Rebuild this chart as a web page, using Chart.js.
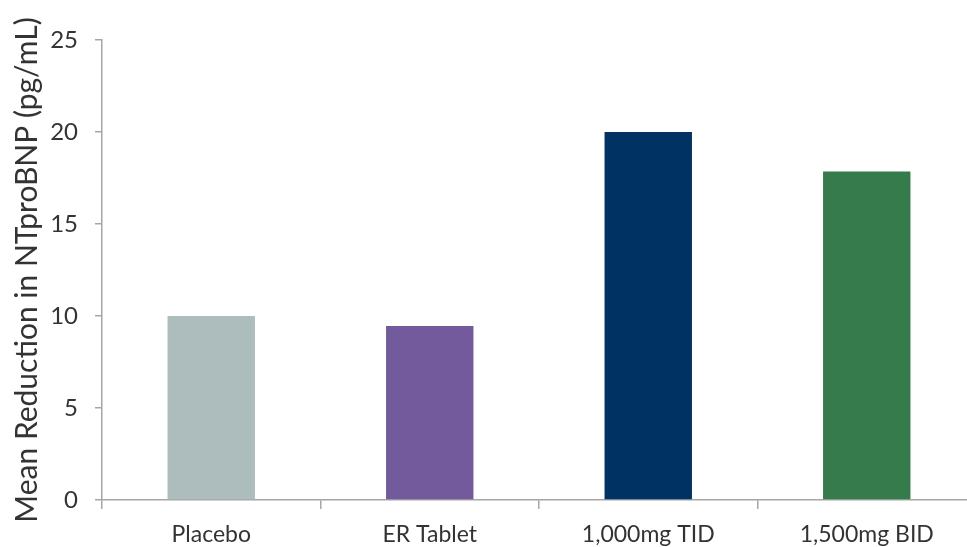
<!DOCTYPE html>
<html><head><meta charset="utf-8">
<script src="https://cdn.jsdelivr.net/npm/chart.js@4/dist/chart.umd.min.js"></script>
<style>
html,body{margin:0;padding:0;background:#fff;overflow:hidden;}
#wrap{width:967px;height:547px;overflow:hidden;position:relative;}
#box{width:980px;height:547px;position:absolute;left:0;top:0;}
</style></head>
<body><div id="wrap"><div id="box"><canvas id="c"></canvas></div></div>
<script>
const categories = ["Placebo", "ER Tablet", "1,000mg TID", "1,500mg BID"];
const values = [10, 9.45, 20, 17.85];
const barColors = ["#adbcbc", "#735a9c", "#003263", "#357b4c"];
const yTitle = "Mean Reduction in NTproBNP (pg/mL)";
const yMin = 0, yMax = 25, yStep = 5;

const axisColor = "#a6a6a6";
const textColor = "#333333";
const fontFam = "Lato, 'Open Sans', sans-serif";

new Chart(document.getElementById('c'), {
  type: 'bar',
  data: {
    labels: categories,
    datasets: [{
      data: values,
      backgroundColor: barColors,
      borderWidth: 0,
      barPercentage: 0.4,
      categoryPercentage: 1.0
    }]
  },
  options: {
    responsive: true,
    maintainAspectRatio: false,
    animation: false,
    devicePixelRatio: 1,
    layout: { padding: { top: 40, right: 4, left: 0, bottom: 0 } },
    plugins: { legend: { display: false }, tooltip: { enabled: false } },
    scales: {
      x: {
        grid: { display: true, drawOnChartArea: false, color: axisColor, tickLength: 9, lineWidth: 1.5 },
        border: { display: true, color: axisColor, width: 1.5 },
        ticks: { color: textColor, font: { family: fontFam, size: 23 }, padding: 12, maxRotation: 0 },
        afterFit: (s) => { s.height = 47; }
      },
      y: {
        min: yMin, max: yMax,
        grid: { display: true, drawOnChartArea: false, color: axisColor, tickLength: 7, lineWidth: 1.5 },
        border: { display: true, color: axisColor, width: 1.5 },
        ticks: { stepSize: yStep, color: textColor, font: { family: fontFam, size: 24 }, padding: 17 },
        title: { display: true, text: yTitle, color: textColor, font: { family: fontFam, size: 30 }, padding: { top: 9, bottom: 0 } },
        afterFit: (s) => { s.width = 102; }
      }
    }
  }
});
</script>
</body></html>
